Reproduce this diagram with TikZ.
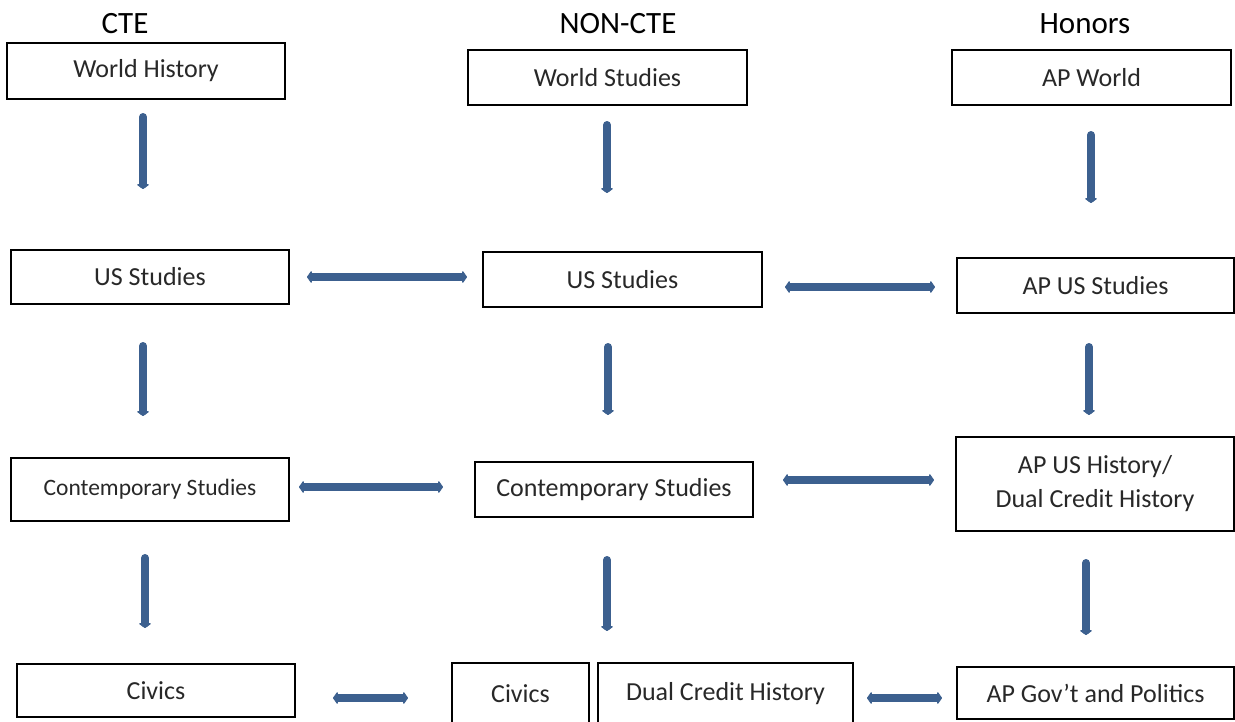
\documentclass[tikz,border=0pt]{standalone}
\usepackage{fontspec}
\setmainfont{Carlito}
\usetikzlibrary{arrows.meta}
\definecolor{arrowblue}{RGB}{60,96,143}
\definecolor{boxtext}{RGB}{40,40,40}
\begin{document}
\begin{tikzpicture}[x=1pt,y=-1pt,
  box/.style={draw=black, line width=1.6pt, fill=white, text=boxtext,
    font=\fontsize{26}{34}\selectfont, inner sep=0pt, align=center},
  head/.style={font=\fontsize{31}{36}\selectfont, text=black, inner sep=0pt},
  tipA/.tip={Triangle[length=5pt,width=14pt,round]},
  flow/.style={draw=arrowblue, line width=8pt, line cap=round, -tipA},
  link/.style={draw=arrowblue, line width=8pt, tipA-tipA}]
\useasboundingbox (0,0) rectangle (1235,721);
\clip (0,0) rectangle (1235,721);
\fill[white] (0,0) rectangle (1235,721);

% headers
\node[head] (hcte) at (125,24) {CTE};
\node[head] (hnon) at (618,24) {NON-CTE};
\node[head] (hhon) at (1085,24) {Honors};

% row 1
\node[box, minimum width=278pt, minimum height=56pt] (wh) at (146,71) {World History};
\node[box, minimum width=279pt, minimum height=55pt] (ws) at (607.5,77.5) {World Studies};
\node[box, minimum width=279pt, minimum height=55pt] (apw) at (1091.5,77.5) {AP World};

% row 2
\node[box, minimum width=278pt, minimum height=54pt] (us1) at (150,277) {US Studies};
\node[box, minimum width=279pt, minimum height=55pt] (us2) at (622.5,279.5) {US Studies};
\node[box, minimum width=277pt, minimum height=55pt] (apus) at (1095.5,285.5) {AP US Studies};

% row 3
\node[box, minimum width=278pt, minimum height=63pt, font=\fontsize{23.5}{28}\selectfont] (cs1) at (150,489.5) {Contemporary Studies};
\node[box, minimum width=278pt, minimum height=55pt] (cs2) at (614,489.5) {Contemporary Studies};
\node[box, minimum width=278pt, minimum height=94pt] (apush) at (1095,484) {AP US History/\\Dual Credit History};

% row 4
\node[box, minimum width=278pt, minimum height=53pt] (civ1) at (156,690.5) {Civics};
\node[box, minimum width=137pt, minimum height=62pt] (civ2) at (520.5,694) {Civics};
\node[box, minimum width=255pt, minimum height=62pt] (dc) at (725.5,694) {Dual Credit History};
\node[box, minimum width=277pt, minimum height=52pt] (apg) at (1095.5,693) {AP Gov’t and Politics};

% vertical arrow ends
\coordinate (c1a) at (143,117); \coordinate (c1b) at (143,189);
\coordinate (c2a) at (143,346); \coordinate (c2b) at (143,416);
\coordinate (c3a) at (145,558); \coordinate (c3b) at (145,628);
\coordinate (n1a) at (607,125); \coordinate (n1b) at (607,193);
\coordinate (n2a) at (608,347); \coordinate (n2b) at (608,415);
\coordinate (n3a) at (607,560); \coordinate (n3b) at (607,631);
\coordinate (h1a) at (1091,135); \coordinate (h1b) at (1091,203);
\coordinate (h2a) at (1089,347); \coordinate (h2b) at (1089,415);
\coordinate (h3a) at (1086,563); \coordinate (h3b) at (1086,635);

\draw[flow] (c1a) -- (c1b);
\draw[flow] (c2a) -- (c2b);
\draw[flow] (c3a) -- (c3b);
\draw[flow] (n1a) -- (n1b);
\draw[flow] (n2a) -- (n2b);
\draw[flow] (n3a) -- (n3b);
\draw[flow] (h1a) -- (h1b);
\draw[flow] (h2a) -- (h2b);
\draw[flow] (h3a) -- (h3b);

% horizontal double arrows
\coordinate (l2a) at (307,277); \coordinate (l2b) at (467,277);
\coordinate (r2a) at (785,287); \coordinate (r2b) at (935,287);
\coordinate (l3a) at (299,487); \coordinate (l3b) at (443,487);
\coordinate (r3a) at (783,480); \coordinate (r3b) at (934,480);
\coordinate (l4a) at (333,698); \coordinate (l4b) at (408,698);
\coordinate (r4a) at (867,698); \coordinate (r4b) at (942,698);

\draw[link] (l2a) -- (l2b);
\draw[link] (r2a) -- (r2b);
\draw[link] (l3a) -- (l3b);
\draw[link] (r3a) -- (r3b);
\draw[link] (l4a) -- (l4b);
\draw[link] (r4a) -- (r4b);
\end{tikzpicture}
\end{document}
